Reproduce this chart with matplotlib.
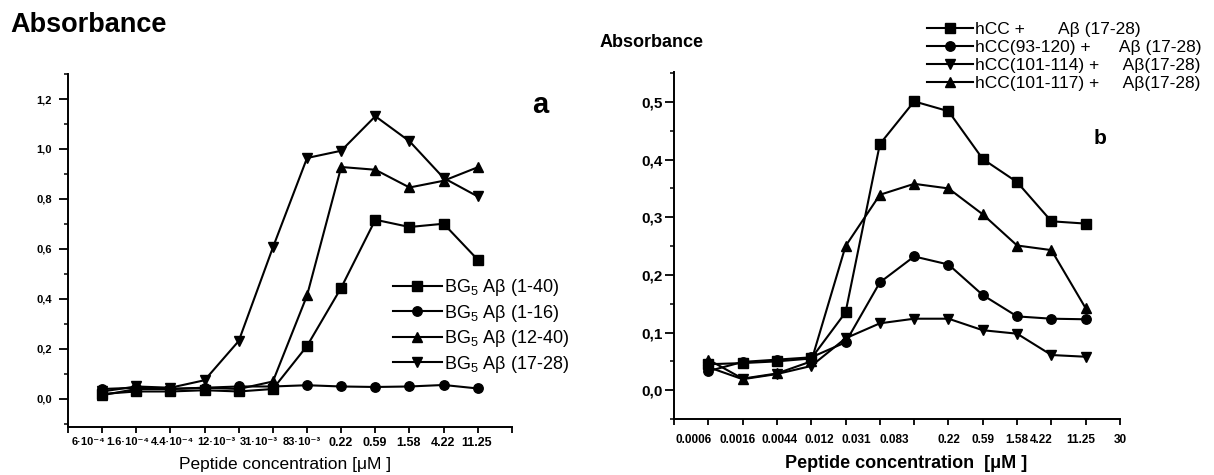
import numpy as np
import matplotlib
matplotlib.use("Agg")
import matplotlib.pyplot as plt
from matplotlib.ticker import FixedLocator, FuncFormatter

plt.rcParams["font.family"] = ["Liberation Sans", "DejaVu Sans"]
plt.rcParams["mathtext.default"] = "regular"

# Panel a: BG5 conjugates, absorbance vs peptide concentration
conc_a = ["6·10⁻⁴", "1.6·10⁻⁴", "4.4·10⁻⁴", "12·10⁻³", "31·10⁻³",
          "83·10⁻³", "0.22", "0.59", "1.58", "4.22", "11.25"]
series_a = {
    "BG$_5$ Aβ (1-40)":  [0.020, 0.030, 0.030, 0.035, 0.030, 0.040, 0.212, 0.445, 0.717, 0.688, 0.701, 0.557],
    "BG$_5$ Aβ (1-16)":  [0.040, 0.045, 0.040, 0.045, 0.050, 0.050, 0.055, 0.050, 0.048, 0.050, 0.056, 0.042],
    "BG$_5$ Aβ (12-40)": [0.015, 0.040, 0.040, 0.045, 0.040, 0.070, 0.414, 0.928, 0.917, 0.846, 0.873, 0.927],
    "BG$_5$ Aβ (17-28)": [0.030, 0.050, 0.045, 0.075, 0.232, 0.606, 0.964, 0.993, 1.131, 1.031, 0.884, 0.810],
}
markers_a = ["s", "o", "^", "v"]

# Panel b: hCC fragments + Abeta(17-28)
conc_b = ["0.0006", "0.0016", "0.0044", "0.012", "0.031", "0.083",
          "0.22", "0.59", "1.58", "4.22", "11.25", "30"]
series_b = {
    "hCC +       Aβ (17-28)":         [0.045, 0.047, 0.050, 0.055, 0.135, 0.427, 0.501, 0.484, 0.401, 0.361, 0.293, 0.289],
    "hCC(93-120) +      Aβ (17-28)":  [0.033, 0.049, 0.053, 0.057, 0.083, 0.187, 0.232, 0.218, 0.165, 0.128, 0.124, 0.123],
    "hCC(101-114) +     Aβ(17-28)":   [0.040, 0.019, 0.028, 0.042, 0.090, 0.116, 0.124, 0.124, 0.104, 0.098, 0.061, 0.058],
    "hCC(101-117) +     Aβ(17-28)":   [0.053, 0.020, 0.029, 0.050, 0.250, 0.339, 0.358, 0.350, 0.305, 0.251, 0.243, 0.142],
}
markers_b = ["s", "o", "v", "^"]


def comma(v, pos):
    return f"{v:.1f}".replace(".", ",")


def style_axes(ax, ymajor, yminor, ylim, ylab_size, ylab_pad, xlab_size, xlabel_pad):
    for side in ("top", "right"):
        ax.spines[side].set_visible(False)
    for side in ("left", "bottom"):
        ax.spines[side].set_linewidth(1.4)
    ax.set_xlim(0, 13)
    ax.set_ylim(*ylim)
    ax.yaxis.set_major_locator(FixedLocator(ymajor))
    ax.yaxis.set_minor_locator(FixedLocator(yminor))
    ax.yaxis.set_major_formatter(FuncFormatter(comma))
    ax.tick_params(axis="y", which="major", direction="out", length=6.5, width=1.3,
                   labelsize=ylab_size, pad=ylab_pad)
    ax.tick_params(axis="y", which="minor", direction="out", length=3, width=1.1)
    for lab in ax.get_yticklabels():
        lab.set_fontweight("bold")
    # tick marks at every concentration step, labels carried by zero-length minor ticks
    ax.set_xticks(np.arange(0, 14))
    ax.xaxis.remove_overlapping_locs = False
    ax.tick_params(axis="x", which="major", direction="out", length=4, width=1.3,
                   labelbottom=False)
    ax.tick_params(axis="x", which="minor", length=0, pad=xlabel_pad, labelsize=xlab_size)


fig = plt.figure(figsize=(12.14, 4.75), dpi=100)

# ---- panel a
ax_a = fig.add_axes([0.056, 0.1011, 0.3657, 0.7431])
x_a = np.arange(1, len(series_a["BG$_5$ Aβ (1-40)"]) + 1)
for (label, vals), mk in zip(series_a.items(), markers_a):
    ax_a.plot(x_a, vals, color="black", lw=1.5, marker=mk,
              ms=7.5 if mk in "^v" else 6.8, label=label)
style_axes(ax_a, np.arange(0, 1.21, 0.2), np.arange(-0.1, 1.31, 0.1),
           (-0.112, 1.3), 8, 5, 9, 7)
pos_a = [0.6, 1.76, 3.05, 4.35, 5.6, 6.85, 7.98, 8.97, 9.97, 10.97, 11.95]
ax_a.set_xticks(pos_a, conc_a, minor=True)
for i, lab in enumerate(ax_a.get_xticklabels(minor=True)):
    lab.set_fontweight("bold")
    if i < 6:
        lab.set_fontsize(8)
ax_a.set_xlabel("Peptide concentration [μM ]", fontsize=12.5)
ax_a.xaxis.set_label_coords(0.49, -0.085)
ax_a.legend(loc="upper left", bbox_to_anchor=(393 / 1214, 1 - 277 / 475),
            bbox_transform=fig.transFigure, frameon=False, fontsize=13,
            handlelength=2.7, handletextpad=0.15, labelspacing=0.25,
            borderpad=0, borderaxespad=0)

fig.text(10 / 1214, 1 - 12 / 475, "Absorbance", fontsize=19.5, fontweight="bold",
         ha="left", va="top")
fig.text(532 / 1214, 1 - 113 / 475, "a", fontsize=21, fontweight="bold",
         ha="left", va="baseline")

# ---- panel b
ax_b = fig.add_axes([0.5552, 0.1179, 0.3674, 0.7305])
x_b = np.arange(1, len(series_b["hCC +       Aβ (17-28)"]) + 1)
for (label, vals), mk in zip(series_b.items(), markers_b):
    ax_b.plot(x_b, vals, color="black", lw=1.5, marker=mk,
              ms=7.5 if mk in "^v" else 6.8, label=label)
style_axes(ax_b, np.arange(0, 0.51, 0.1), np.arange(-0.05, 0.56, 0.05),
           (-0.05, 0.552), 11, 1.5, 8.5, 11)
pos_b = [0.58, 1.84, 3.09, 4.23, 5.31, 6.42, 8.0, 9.0, 10.0, 10.7, 11.85, 13.0]
ax_b.set_xticks(pos_b, conc_b, minor=True)
for lab in ax_b.get_xticklabels(minor=True):
    lab.set_fontweight("bold")
ax_b.set_xlabel("Peptide concentration  [μM ]", fontsize=13, fontweight="bold")
ax_b.xaxis.set_label_coords(0.52, -0.104)
ax_b.legend(loc="upper left", bbox_to_anchor=(927 / 1214, 1 - 22 / 475),
            bbox_transform=fig.transFigure, frameon=False, fontsize=12.5,
            handlelength=2.65, handletextpad=0.1, labelspacing=0.17,
            borderpad=0, borderaxespad=0)

fig.text(600 / 1214, 1 - 34 / 475, "Absorbance", fontsize=13, fontweight="bold",
         ha="left", va="top")
fig.text(1094 / 1214, 1 - 144 / 475, "b", fontsize=15, fontweight="bold",
         ha="left", va="baseline")

fig.savefig("out.png", dpi=100)
